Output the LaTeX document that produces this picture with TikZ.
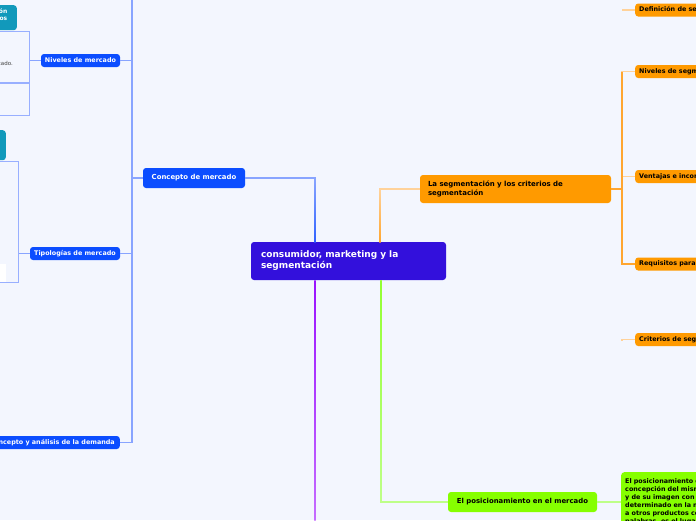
\documentclass[tikz,border=0pt]{standalone}
\usepackage{fontspec}
\setmainfont{DejaVu Sans}
\usetikzlibrary{calc}
\definecolor{bg}{HTML}{F3F6FE}
\definecolor{cmain}{HTML}{3310DC}
\definecolor{cblue}{HTML}{0B4DFF}
\definecolor{cteal}{HTML}{1199BB}
\definecolor{corange}{HTML}{FF9A00}
\definecolor{clime}{HTML}{86FF00}
\definecolor{lblue}{HTML}{88A4FF}
\definecolor{dblue}{HTML}{2F62FF}
\definecolor{lorange}{HTML}{FFD29A}
\definecolor{dorange}{HTML}{FFA630}
\definecolor{cpurple}{HTML}{9A12FF}
\definecolor{lpurple}{HTML}{C56CFF}
\definecolor{cgreen}{HTML}{92FF30}
\definecolor{lgreen}{HTML}{BEFF88}
\definecolor{boxline}{HTML}{98AFFF}
\tikzset{
  base/.style={rounded corners=3pt, inner sep=0pt, font=\bfseries\fontsize{6.4}{8}\selectfont},
  mainbox/.style={base, fill=cmain, text=white, font=\bfseries\fontsize{9}{11}\selectfont, align=left},
  bluebox/.style={base, fill=cblue, text=white},
  orangebox/.style={base, fill=corange, text=black},
  limebox/.style={base, fill=clime, text=black},
  tealbox/.style={base, fill=cteal, text=white, font=\bfseries\fontsize{6}{7.2}\selectfont},
  outbox/.style={draw=boxline, line width=1.3pt, fill=bg, inner sep=0pt},
  conn/.style={line width=1.4pt}
}
\begin{document}
\begin{tikzpicture}[x=1pt,y=-1pt]
\useasboundingbox (0,0) rectangle (696,520);
\clip (0,0) rectangle (696,520);
\fill[bg] (0,0) rectangle (696,520);

% coordinates
\coordinate (bt) at (315,242);
\coordinate (ot) at (380,242);
\coordinate (pb) at (315,280);
\coordinate (gb) at (381,280);
\coordinate (pend) at (315,520);

% central node
\node[mainbox, minimum width=195pt, minimum height=38pt, text width=175pt] (c) at (348.5,261) {consumidor, marketing y la\\segmentación};

% level 1
\node[bluebox, minimum width=102pt, minimum height=20pt, font=\bfseries\fontsize{6.9}{8}\selectfont] (con) at (194,178) {Concepto de mercado};
\node[orangebox, minimum width=191pt, minimum height=28pt, text width=175pt, align=left, font=\bfseries\fontsize{7}{8.6}\selectfont] (seg) at (515.5,189) {La segmentación y los criterios de\\segmentación};
\node[limebox, minimum width=149pt, minimum height=20pt, font=\bfseries\fontsize{6.9}{8}\selectfont] (pos) at (522.5,502) {El posicionamiento en el mercado};

% main connectors (light) with stronger colour near the centre
\draw[conn, lblue] (bt) |- (con.east);
\shade[top color=lblue, bottom color=dblue] ($(con.east -| bt)+(-0.7,0.7)$) rectangle ($(bt)+(0.7,0)$);
\draw[conn, lorange] (ot) |- (seg.west);
\shade[top color=lorange, bottom color=dorange] ($(seg.west -| ot)+(-0.7,0.7)$) rectangle ($(ot)+(0.7,0)$);
\shade[top color=cpurple, bottom color=lpurple] ($(pb)+(-0.7,0)$) rectangle ($(pend)+(0.7,0)$);
\draw[conn, lgreen] (gb) |- (pos.west);
\shade[top color=cgreen, bottom color=lgreen] ($(gb)+(-0.7,0)$) rectangle ($(pos.west -| gb)+(0.7,-0.7)$);

% left branch
\node[bluebox, minimum width=79pt, minimum height=13pt] (niv) at (80.5,60.5) {Niveles de mercado};
\node[bluebox, minimum width=90pt, minimum height=13pt] (tip) at (75,253.5) {Tipologías de mercado};
\node[bluebox, minimum height=13pt, inner xsep=5pt, anchor=east] (dem) at (120,442.5) {Concepto y análisis de la demanda};
\coordinate (ltop) at (132,-5);
\coordinate (lj) at (132,178);
\draw[conn, lblue] (con.west) -- (lj);
\draw[conn, lblue] (ltop) |- (dem.east);
\draw[conn, lblue] (lj) |- (niv.east);
\draw[conn, lblue] (lj) |- (tip.east);

% left children (clipped)
\node[tealbox, minimum width=30pt, minimum height=25pt, anchor=north east] (t1) at (17,5) {};
\node[tealbox, anchor=east, align=right] at (7.5,15) {Tipos de relación\\entre los mercados};
\node[outbox, minimum width=40pt, minimum height=51pt, anchor=north east] (b1) at (30,31) {};
\node[anchor=east, inner sep=0pt, text=black!75, font=\fontsize{5.5}{6.5}\selectfont] at (13,63.5) {de mercado.};
\node[outbox, minimum width=40pt, minimum height=32pt, anchor=north east] (b2) at (30,83) {};
\draw[conn, lblue] (niv.west) -- (b1.east |- niv.west);

\node[tealbox, minimum width=20pt, minimum height=30pt, anchor=north east] (t2) at (6,130) {};
\node[outbox, minimum width=30pt, minimum height=121pt, anchor=north east] (b3) at (19,161) {};
\node[fill=white, minimum width=20pt, minimum height=18pt, inner sep=0pt, anchor=north east] (w1) at (6,264) {};
\draw[conn, lblue] (tip.west) -- (b3.east |- tip.west);

% right branch (segmentation)
\coordinate (rj) at (622,189);
\coordinate (rtop) at (622,10);
\coordinate (rbot) at (622,340);
\node[orangebox, minimum height=13pt, inner xsep=4pt, anchor=west] (s1) at (635,10) {Definición de segmentación};
\node[orangebox, minimum height=13pt, inner xsep=4pt, anchor=west] (s2) at (635,71.5) {Niveles de segmentación};
\node[orangebox, minimum height=13pt, inner xsep=4pt, anchor=west] (s3) at (635,176.5) {Ventajas e inconvenientes de la segmentación};
\node[orangebox, minimum height=13pt, inner xsep=4pt, anchor=west] (s4) at (635,264) {Requisitos para una segmentación eficaz};
\node[orangebox, minimum height=13pt, inner xsep=4pt, anchor=west] (s5) at (635,339.5) {Criterios de segmentación};
\draw[conn, lorange] (rtop) |- (s1.west);
\draw[conn, lorange] (rbot) |- (s5.west);
\draw[conn, lorange] (rj) |- (s2.west);
\draw[conn, lorange] (rj) |- (s3.west);
\draw[conn, dorange] (seg.east) -- (rj);
\draw[conn, dorange] (s2.west -| rj) -- (s4.west -| rj) -- (s4.west);

% positioning description
\node[limebox, anchor=north west, inner xsep=4pt, inner ysep=3.5pt, text width=170pt, align=left, font=\bfseries\fontsize{6.4}{8}\selectfont, minimum height=60pt] (pd) at (621,472) {El posicionamiento de un producto es la\\concepción del mismo que hace la empresa\\y de su imagen con el fin de darle un lugar\\determinado en la mente del consumidor\\a otros productos competidores. En otras\\palabras, es el lugar que ocupa el producto};
\draw[conn, lgreen] (pos.east) -- (pos.east -| pd.west);
\end{tikzpicture}
\end{document}
